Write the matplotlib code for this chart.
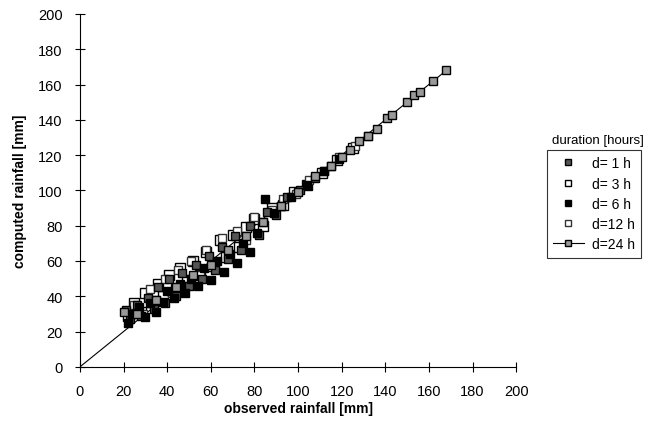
import matplotlib.pyplot as plt
from matplotlib.lines import Line2D

# observed vs computed rainfall [mm] per duration
d1_obs = [21, 23, 26, 28, 31, 34, 36, 39, 41, 44, 47, 50, 53, 56, 59, 62, 65, 68, 71, 74, 78, 82, 86, 90, 95, 101, 108, 115]
d1_comp = [32, 27, 35, 29, 39, 33, 45, 36, 50, 40, 53, 46, 58, 50, 63, 55, 68, 61, 74, 66, 80, 75, 88, 86, 96, 100, 107, 114]

d3_obs = [22, 25, 28, 30, 33, 36, 38, 41, 44, 46, 49, 52, 55, 58, 61, 64, 67, 70, 73, 76, 80, 84, 88, 93, 98, 104, 111, 118, 125]
d3_comp = [29, 36, 31, 42, 37, 47, 40, 52, 44, 56, 49, 60, 52, 65, 57, 72, 62, 75, 68, 79, 84, 80, 90, 92, 99, 103, 110, 117, 124]

d6_obs = [22, 24, 27, 30, 32, 35, 38, 40, 43, 46, 48, 51, 54, 57, 60, 63, 66, 69, 72, 75, 78, 81, 85, 89, 92, 97, 104, 112, 119]
d6_comp = [25, 30, 34, 28, 36, 31, 37, 43, 39, 47, 42, 50, 46, 56, 49, 60, 54, 64, 59, 70, 65, 76, 95, 87, 91, 96, 103, 111, 118]

d12_obs = [25, 29, 32, 35, 39, 42, 45, 48, 51, 55, 58, 62, 65, 68, 72, 76, 80, 84, 88, 93, 99, 105, 112, 119, 126, 132]
d12_comp = [35, 30, 44, 38, 50, 42, 55, 46, 60, 52, 66, 58, 73, 63, 77, 72, 85, 82, 89, 95, 98, 106, 111, 119, 125, 131]

d24_obs = [20, 26, 35, 44, 52, 60, 68, 76, 84, 92, 100, 108, 115, 120, 124, 128, 132, 136, 141, 143, 150, 153, 156, 162, 168]
d24_comp = [31, 30, 38, 45, 52, 58, 66, 74, 82, 91, 99, 108, 114, 119, 123, 128, 131, 135, 141, 143, 150, 154, 156, 162, 168]

plt.rcParams['font.family'] = ['Liberation Sans', 'DejaVu Sans']

fig = plt.figure(figsize=(6.55, 4.39), dpi=100)
ax = fig.add_axes([0.122, 0.162, 0.666, 0.804])

# 1:1 line
ax.plot([0, max(d24_obs)], [0, max(d24_comp)], color='black', lw=0.8, zorder=1)

ax.plot(d3_obs, d3_comp, 's', ms=7, mfc='white', mec='black', mew=1.0, zorder=2)
ax.plot(d12_obs, d12_comp, 's', ms=6, mfc='white', mec='#333333', mew=1.0, zorder=3)
ax.plot(d1_obs, d1_comp, 's', ms=6, mfc='#555555', mec='black', mew=1.0, zorder=4)
ax.plot(d6_obs, d6_comp, 's', ms=6, mfc='black', mec='black', mew=1.0, zorder=5)
ax.plot(d24_obs, d24_comp, 's', ms=6, mfc='#999999', mec='black', mew=1.0, zorder=6)

ax.set_xlim(0, 200)
ax.set_ylim(0, 200)
ax.set_xticks(range(0, 201, 20))
ax.set_yticks(range(0, 201, 20))
ax.tick_params(direction='inout', length=7, width=0.8, labelsize=10.5)
ax.tick_params(axis='x', pad=9)
ax.tick_params(axis='y', pad=9)
for s in ['top', 'right']:
    ax.spines[s].set_visible(False)
for s in ['left', 'bottom']:
    ax.spines[s].set_linewidth(0.8)

ax.set_xlabel('observed rainfall [mm]', fontsize=10, fontweight='bold', labelpad=2)
ax.set_ylabel('computed rainfall [mm]', fontsize=10, fontweight='bold', labelpad=8)

handles = [
    Line2D([], [], ls='', marker='s', ms=5, mfc='#555555', mec='black'),
    Line2D([], [], ls='', marker='s', ms=5, mfc='white', mec='black'),
    Line2D([], [], ls='', marker='s', ms=5, mfc='black', mec='black'),
    Line2D([], [], ls='', marker='s', ms=5, mfc='white', mec='#333333'),
    Line2D([], [], ls='-', color='black', lw=0.8, marker='s', ms=5, mfc='#999999', mec='black'),
]
labels = ['d= 1 h', 'd= 3 h', 'd= 6 h', 'd=12 h', 'd=24 h']
leg = fig.legend(handles, labels, loc='upper left', bbox_to_anchor=(0.835, 0.656),
                 fontsize=10, frameon=True, fancybox=False, edgecolor='black',
                 handlelength=2.2, handletextpad=0.6, borderpad=0.45, labelspacing=0.45,
                 borderaxespad=0)
leg.get_frame().set_linewidth(0.8)
fig.text(0.843, 0.672, 'duration [hours]', fontsize=9.5)

fig.savefig('out.png', dpi=100)
